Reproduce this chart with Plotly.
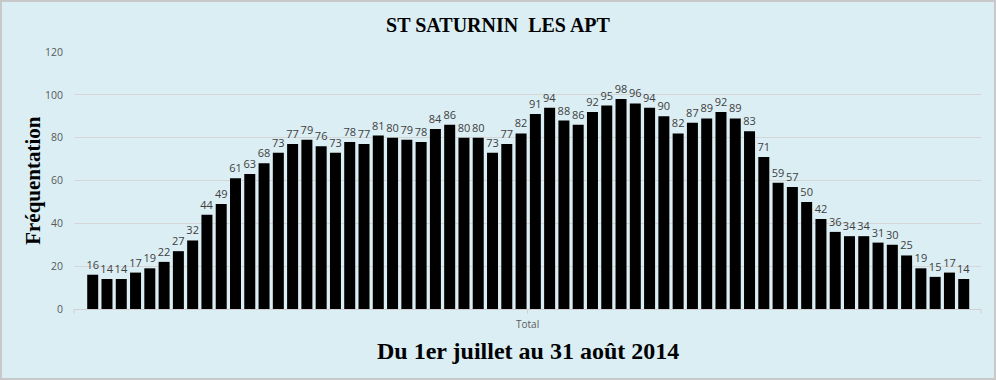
import plotly.graph_objects as go

days = list(range(1, 63))
visits = [16, 14, 14, 17, 19, 22, 27, 32, 44, 49,
          61, 63, 68, 73, 77, 79, 76, 73, 78, 77,
          81, 80, 79, 78, 84, 86, 80, 80, 73, 77,
          82, 91, 94, 88, 86, 92, 95, 98, 96, 94,
          90, 82, 87, 89, 92, 89, 83, 71, 59, 57,
          50, 42, 36, 34, 34, 31, 30, 25, 19, 15,
          17, 14]
y_ticks = [0, 20, 40, 60, 80, 100, 120]

title = "ST SATURNIN  LES APT"
x_title = "Du 1er juillet au 31 août 2014"
y_title = "Fréquentation"
category = "Total"

fig = go.Figure()
fig.add_trace(go.Bar(
    x=days, y=visits, width=0.77,
    marker=dict(color="#000000", line=dict(width=0)),
    text=[str(v) for v in visits], textposition="outside", constraintext="none",
    textfont=dict(family="Open Sans, DejaVu Sans, sans-serif", size=11, color="#404040"),
    cliponaxis=False, hoverinfo="x+y",
))

serif = "Liberation Serif, Times New Roman, serif"
fig.update_layout(
    width=996, height=380,
    margin=dict(l=74, r=15, t=52, b=71),
    paper_bgcolor="#dbeef4", plot_bgcolor="#dbeef4",
    showlegend=False,
    title=dict(text="<b>" + title + "</b>", x=0.5, xanchor="center", y=0.935, yanchor="middle",
               font=dict(family=serif, size=20, color="#000000")),
    xaxis=dict(range=[-0.31, 63.21], showticklabels=False, showgrid=False, zeroline=False,
               showline=True, linecolor="#d0d0d0", linewidth=1, ticks=""),
    yaxis=dict(range=[0, 120], tickvals=y_ticks, showgrid=True, gridcolor="#d6d6d6",
               zeroline=False, showline=False,
               tickfont=dict(family="Open Sans, DejaVu Sans, sans-serif", size=10.5, color="#595959"),
               ticklabelstandoff=10),
    bargap=0.2,
)

# category tick marks at ends and middle of the axis
for xp in [0, 0.5, 1]:
    fig.add_shape(type="line", xref="paper", yref="paper", x0=xp, x1=xp, y0=0, y1=-0.018,
                  line=dict(color="#d0d0d0", width=1))
# chart border
fig.add_shape(type="rect", xref="paper", yref="paper", x0=-73/907, x1=1+14/907, y0=-70/257, y1=1+51/257,
              line=dict(color="#c8c8c8", width=2), layer="below")

fig.add_annotation(text=category, xref="paper", yref="paper", x=0.5, y=-0.058, showarrow=False,
                   yanchor="middle", font=dict(family="Open Sans, DejaVu Sans, sans-serif", size=10, color="#595959"))
fig.add_annotation(text="<b>" + x_title + "</b>", xref="paper", yref="paper", x=0.5, y=-0.165,
                   showarrow=False, yanchor="middle",
                   font=dict(family=serif, size=24, color="#000000"))
fig.add_annotation(text="<b>" + y_title + "</b>", xref="paper", yref="paper", x=-0.046, y=0.5,
                   showarrow=False, textangle=-90, xanchor="center", yanchor="middle",
                   font=dict(family=serif, size=21, color="#000000"))

fig.write_html("out.html", config={"displayModeBar": False},
               post_script="document.body.style.margin='0';")
